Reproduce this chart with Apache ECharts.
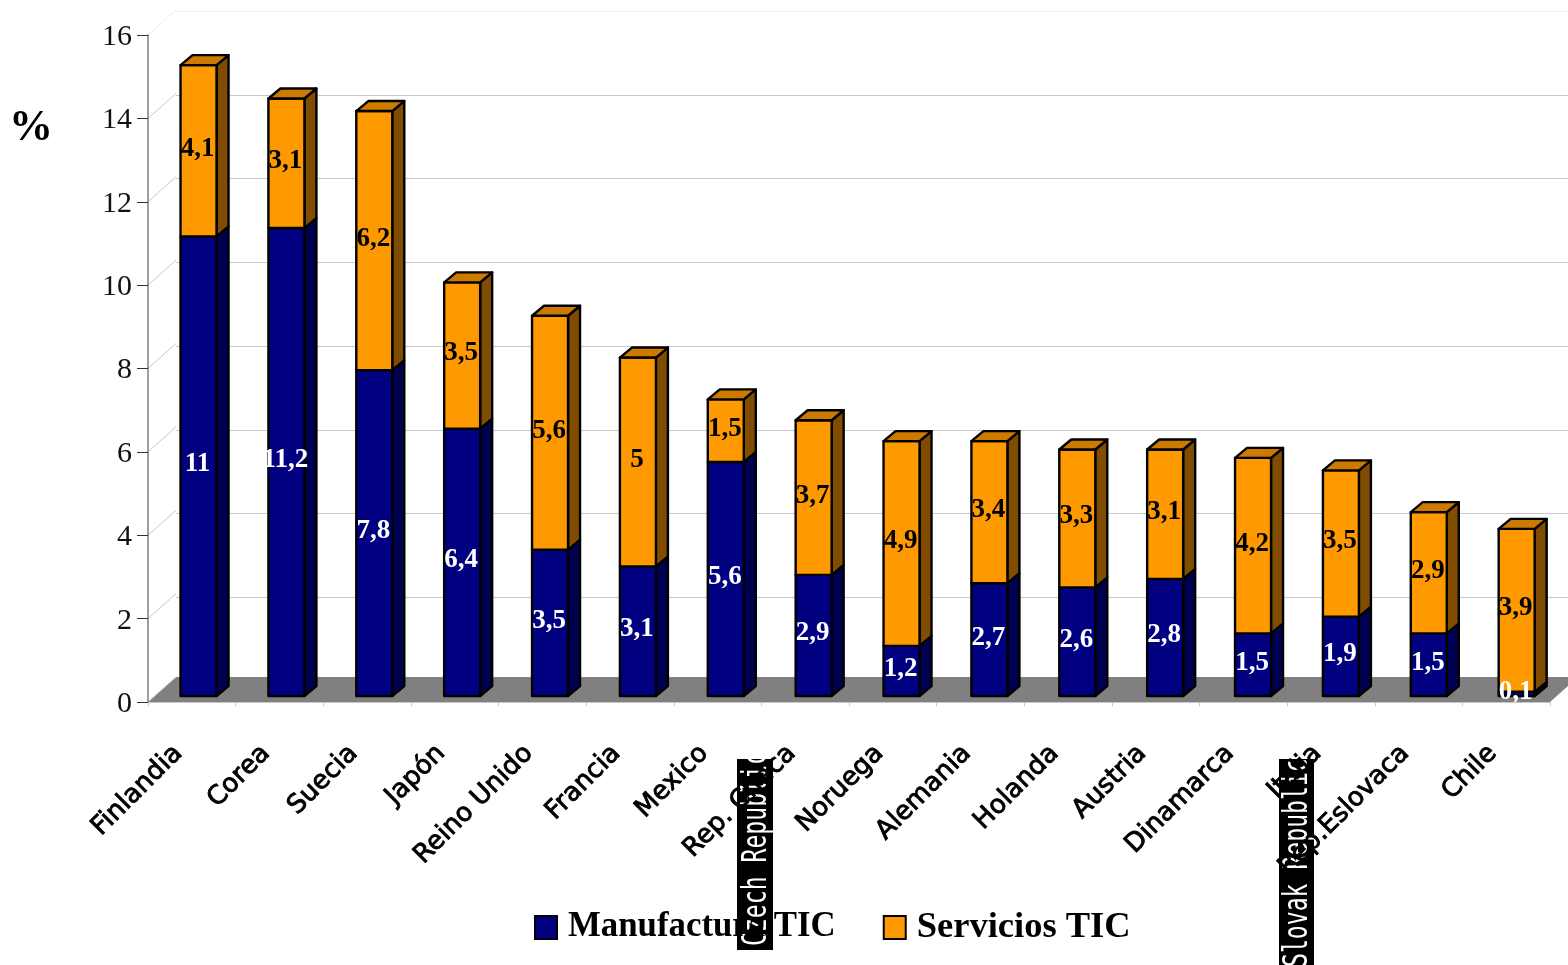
<!DOCTYPE html>
<html><head><meta charset="utf-8">
<style>html,body{margin:0;padding:0;background:#fff}#c{width:1568px;height:965px}</style>
<script src="https://cdn.jsdelivr.net/npm/echarts@6/dist/echarts.min.js"></script>
</head><body><div id="c"></div>
<script>
const categories = ['Finlandia','Corea','Suecia','Japón','Reino Unido','Francia','Mexico','Rep. Checa','Noruega','Alemania','Holanda','Austria','Dinamarca','Italia','Rep.Eslovaca','Chile'];
const manufactura = [11,11.2,7.8,6.4,3.5,3.1,5.6,2.9,1.2,2.7,2.6,2.8,1.5,1.9,1.5,0.1];
const servicios = [4.1,3.1,6.2,3.5,5.6,5,1.5,3.7,4.9,3.4,3.3,3.1,4.2,3.5,2.9,3.9];
const yTicks = [0,2,4,6,8,10,12,14,16];
const overlayTexts = ['Czech Republic','Slovak Republic'];

const SERIF = '"Liberation Serif","Times New Roman",serif';
const dx = 12, dy = 10, wallDx = 28, wallDy = 25, barW = 36;
const fmt = v => String(v).replace('.', ',');

function barRender(front, side, top, withTop) {
  return function (params, api) {
    const i = api.value(0), a = api.value(1), b = api.value(2);
    const c = api.coord([i, a]), d = api.coord([i, b]);
    const x0 = c[0] - barW / 2, x1 = c[0] + barW / 2, y0 = c[1], y1 = d[1];
    const st = { stroke: '#000', lineWidth: 2.4, lineJoin: 'round' };
    const kids = [
      { type: 'polygon', shape: { points: [[x1,y0],[x1+dx,y0-dy],[x1+dx,y1-dy],[x1,y1]] }, style: Object.assign({ fill: side }, st) },
      { type: 'rect', shape: { x: x0, y: y1, width: barW, height: y0 - y1 }, style: Object.assign({ fill: front }, st) }
    ];
    if (withTop) kids.push({ type: 'polygon', shape: { points: [[x0,y1],[x0+dx,y1-dy],[x1+dx,y1-dy],[x1,y1]] }, style: Object.assign({ fill: top }, st) });
    return { type: 'group', children: kids };
  };
}
function labelRender(color) {
  return function (params, api) {
    const i = api.value(0), a = api.value(1), b = api.value(2);
    const c = api.coord([i, (a + b) / 2]);
    return { type: 'text', z2: 50, style: { text: fmt(+(b - a).toFixed(1)), x: c[0] - 1, y: c[1] - 2, align: 'center', verticalAlign: 'middle',
      fill: color, font: 'bold 27px ' + SERIF } };
  };
}
const manuData = manufactura.map((v, i) => [i, 0, v]);
const servData = servicios.map((v, i) => [i, manufactura[i], +(manufactura[i] + v).toFixed(1)]);

const bandAxis = (g) => ({ type: 'category', gridIndex: g, data: categories, show: false });
const valAxis = (g, extra) => Object.assign({ type: 'value', gridIndex: g, min: 0, max: 16, interval: 2, show: false, splitLine: { show: false } }, extra || {});

const option = {
  animation: false,
  backgroundColor: '#fff',
  title: { text: '%', left: 4, top: 102, textStyle: { fontFamily: SERIF, fontSize: 44, fontWeight: 'bold', color: '#000' } },
  grid: [
    { left: 148, width: 1402, top: 35, height: 667, z: 5 },
    { left: 176, width: 1402, top: 11, height: 670 },
    { left: 154.6, width: 1406, top: 27.5, height: 668.5 }
  ],
  xAxis: [
    { type: 'category', gridIndex: 0, data: categories, z: 5,
      axisLine: { show: true, lineStyle: { color: '#c8c8c8', width: 1 } },
      axisTick: { show: true, length: 4, lineStyle: { color: '#c8c8c8' } },
      axisLabel: { interval: 0, rotate: 45, margin: 34, padding: [0, 19, 0, 0], color: '#000', fontFamily: '"DejaVu Sans"', fontSize: 26, textBorderColor: '#000', textBorderWidth: 0.9 } },
    bandAxis(1),
    bandAxis(2)
  ],
  yAxis: [
    { type: 'value', gridIndex: 0, min: 0, max: 16, interval: 2, z: 5,
      axisLine: { show: true, lineStyle: { color: '#808080', width: 1.5 } },
      axisTick: { show: true, length: 11, lineStyle: { color: '#333', width: 1 } },
      axisLabel: { margin: 16, formatter: v => '{n|' + v + '}',
        rich: { n: { padding: [4, 0, 0, 0], color: '#111', fontFamily: SERIF, fontSize: 30 } } },
      splitLine: { show: false } },
    valAxis(1, { show: true, axisLine: { show: false }, axisTick: { show: false }, axisLabel: { show: false },
      splitLine: { show: true, lineStyle: { color: ['#ffffff','#c8c8c8','#c8c8c8','#c8c8c8','#c8c8c8','#c8c8c8','#c8c8c8','#c8c8c8','#f0f0f0'], width: 1 } } }),
    valAxis(2)
  ],
  legend: {
    left: 529, top: 904, itemWidth: 22, itemHeight: 23, itemGap: 47, icon: 'rect',
    selectedMode: false,
    data: [
      { name: 'Manufactura TIC', textStyle: { fontSize: 34.8 } },
      { name: 'Servicios TIC', textStyle: { fontSize: 36.5 } }
    ],
    textStyle: { fontFamily: SERIF, fontWeight: 'bold', fontSize: 35, color: '#000', padding: [0, 0, 0, 6] }
  },
  graphic: { elements: [
    { type: 'rect', z: 1, shape: { x: 737, y: 759, width: 36, height: 191 }, style: { fill: '#000' } },
    { type: 'rect', z: 1, shape: { x: 1279, y: 759, width: 35, height: 206 }, style: { fill: '#000' } },
    { type: 'text', z: 2, x: 757, y: 946, rotation: Math.PI / 2, scaleX: 0.68, style: { text: overlayTexts[0], fill: '#fff', font: '34px "DejaVu Sans Mono"', align: 'left', verticalAlign: 'middle' } },
    { type: 'text', z: 2, x: 1298, y: 967, rotation: Math.PI / 2, scaleX: 0.68, style: { text: overlayTexts[1], fill: '#fff', font: '34px "DejaVu Sans Mono"', align: 'left', verticalAlign: 'middle' } }
  ] },
  series: [
    { type: 'custom', silent: true, z: 1, xAxisIndex: 0, yAxisIndex: 0, data: [[0, 0]], clip: false,
      renderItem(p, api) {
        const cs = p.coordSys, y = api.coord([0, 0])[1];
        return { type: 'polygon', shape: { points: [[cs.x, y],[cs.x + wallDx, y - wallDy],[cs.x + cs.width + wallDx, y - wallDy],[cs.x + cs.width, y]] }, style: { fill: '#808080' } };
      } },
    { type: 'custom', silent: true, z: 1, xAxisIndex: 0, yAxisIndex: 0, data: yTicks.map(v => [0, v]), clip: false,
      renderItem(p, api) {
        const v = api.value(1), y = api.coord([0, v])[1], x = p.coordSys.x;
        return { type: 'line', shape: { x1: x, y1: y, x2: x + wallDx, y2: y - wallDy }, style: { stroke: v === 16 ? '#ececec' : '#c8c8c8', lineWidth: 1 } };
      } },
    { name: 'Manufactura TIC', type: 'custom', z: 3, xAxisIndex: 2, yAxisIndex: 2, clip: false, data: manuData, silent: true,
      itemStyle: { color: '#000080', borderColor: '#000', borderWidth: 2 },
      renderItem: barRender('#000080', '#000050', '#000060', false) },
    { name: 'Servicios TIC', type: 'custom', z: 3, xAxisIndex: 2, yAxisIndex: 2, clip: false, data: servData, silent: true,
      itemStyle: { color: '#ff9900', borderColor: '#000', borderWidth: 2 },
      renderItem: barRender('#ff9900', '#804d00', '#cc7a00', true) },
    { type: 'custom', z: 4, xAxisIndex: 2, yAxisIndex: 2, clip: false, data: manuData, silent: true, renderItem: labelRender('#fff') },
    { type: 'custom', z: 4, xAxisIndex: 2, yAxisIndex: 2, clip: false, data: servData, silent: true, renderItem: labelRender('#000') }
  ]
};
const chart = echarts.init(document.getElementById('c'), null, { renderer: 'canvas' });
chart.setOption(option);
</script></body></html>
